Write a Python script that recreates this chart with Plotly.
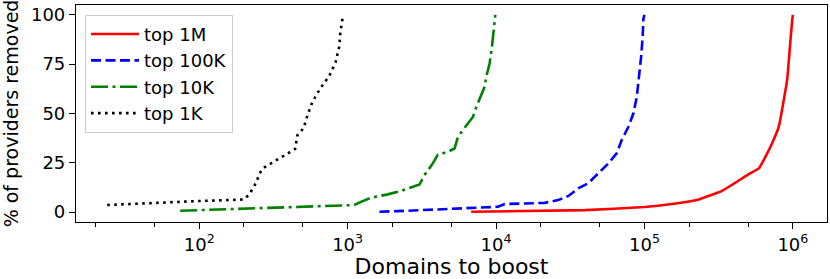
import plotly.graph_objects as go

# top 1M
x_1m = [6800, 39700, 100000, 152700, 232000, 333000, 410000, 505000, 590000, 654000, 725000, 804000, 869000, 915000, 940000, 964000, 989000, 1000000]
y_1m = [0.2, 1.0, 2.6, 4.1, 6.4, 10.8, 14.9, 19.3, 22.2, 28.1, 34.9, 43.3, 56.9, 67.0, 77.2, 87.3, 97.0, 100]
# top 100K
x_100k = [1640, 2170, 10300, 11450, 21300, 26200, 30600, 35800, 41800, 48900, 57100, 65000, 70300, 78000, 84300, 88800, 92100, 95000, 97300, 98400, 100000]
y_100k = [0.2, 0.5, 2.7, 4.1, 4.7, 6.1, 8.1, 12.0, 14.6, 19.6, 24.7, 29.8, 36.5, 43.3, 50.1, 58.5, 68.7, 78.8, 89.0, 98.0, 100]
# top 10K
x_10k = [74.5, 150, 1110, 1230, 1435, 1862, 2280, 3050, 3300, 3750, 4050, 4740, 5260, 5540, 6150, 7000, 7370, 7950, 8390, 8600, 9060, 9390, 9790, 9890]
y_10k = [0.7, 1.4, 3.6, 5.2, 7.3, 9.0, 10.7, 14.0, 18.8, 24.7, 29.0, 30.6, 32.3, 38.2, 42.5, 48.4, 53.4, 59.4, 63.6, 68.7, 75.5, 83.9, 95.0, 100]
# top 1K
x_1k = [24, 44.6, 97, 200, 218, 243, 254, 269, 326, 404, 443, 459, 505, 537, 580, 658, 752, 829, 879, 893, 925, 950]
y_1k = [3.6, 4.6, 5.6, 6.4, 9.1, 15.2, 19.3, 22.3, 26.0, 30.1, 32.0, 39.0, 42.6, 49.2, 56.0, 63.0, 69.0, 75.8, 84.0, 90.9, 98.3, 100]

x_tickvals = [1e2, 1e3, 1e4, 1e5, 1e6]
x_ticktext = ["10<sup>2</sup>", "10<sup>3</sup>", "10<sup>4</sup>", "10<sup>5</sup>", "10<sup>6</sup>"]
y_tickvals = [0, 25, 50, 75, 100]

lw = 2.6
fig = go.Figure()
fig.add_trace(go.Scatter(x=x_1m, y=y_1m, mode="lines", name="top 1M",
                         line=dict(color="#ff0000", width=lw, shape="spline", smoothing=0.4)))
fig.add_trace(go.Scatter(x=x_100k, y=y_100k, mode="lines", name="top 100K",
                         line=dict(color="#0000ff", width=lw, dash="10px,4.5px")))
fig.add_trace(go.Scatter(x=x_10k, y=y_10k, mode="lines", name="top 10K",
                         line=dict(color="#008000", width=lw, dash="17px,4.5px,3px,4.5px")))
fig.add_trace(go.Scatter(x=x_1k, y=y_1k, mode="lines", name="top 1K",
                         line=dict(color="#000000", width=lw, dash="2.6px,4.4px")))

fig.update_layout(
    width=830, height=279,
    margin=dict(l=76, r=3, t=5, b=57, autoexpand=False),
    paper_bgcolor="white", plot_bgcolor="white",
    font=dict(family="DejaVu Sans", size=18, color="black"),
    showlegend=True,
    legend=dict(x=0.012, y=0.955, xanchor="left", yanchor="top",
                bordercolor="#cccccc", borderwidth=1, bgcolor="rgba(255,255,255,0.8)",
                font=dict(size=18), tracegroupgap=0, itemwidth=48),
)
fig.update_xaxes(type="log", range=[1.17, 6.23], showgrid=False, zeroline=False,
                 automargin=False,
                 showline=True, mirror=True, linecolor="black", linewidth=1.2,
                 ticks="outside", ticklen=6, tickcolor="black",
                 tickvals=x_tickvals, ticktext=x_ticktext,
                 minor=dict(ticks="outside", ticklen=3.5, tickcolor="black", showgrid=False),
                 title=dict(text="Domains to boost", standoff=4))
fig.update_yaxes(range=[-5, 105], showgrid=False, zeroline=False,
                 automargin=False,
                 showline=True, mirror=True, linecolor="black", linewidth=1.2,
                 ticks="outside", ticklen=6, tickcolor="black",
                 tickvals=y_tickvals,
                 title=dict(text="% of providers removed", standoff=7, font=dict(size=19)))

fig.write_html("out.html", config={"displayModeBar": False},
               post_script="document.body.style.margin='0';document.body.style.overflow='hidden';")
